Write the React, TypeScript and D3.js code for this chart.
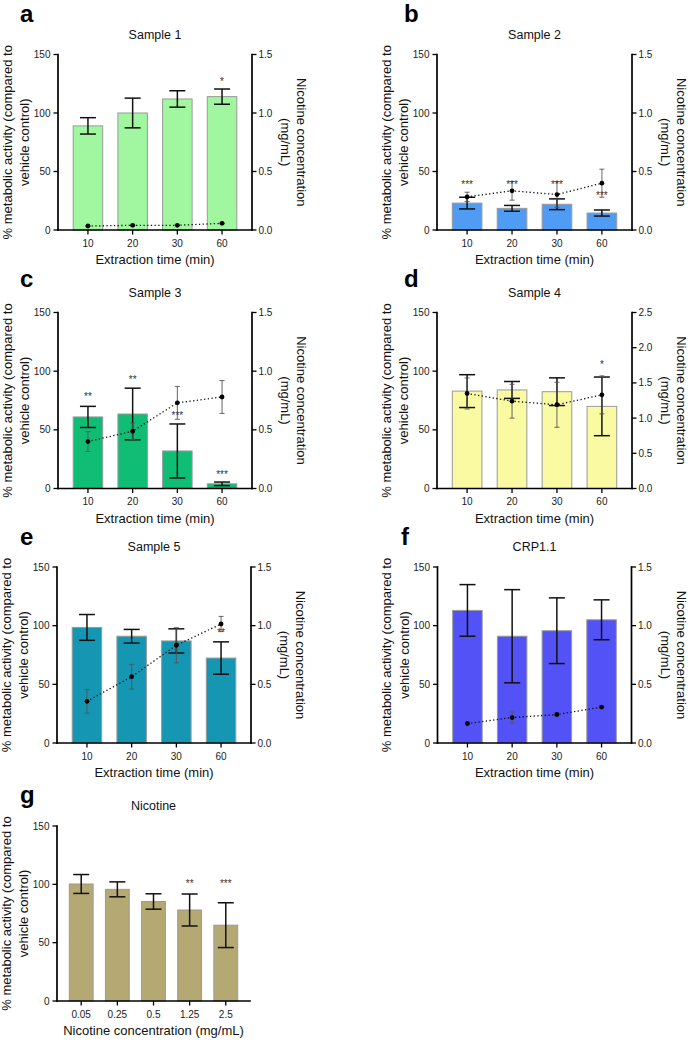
import React from "react";
import * as d3 from "d3";

// ---------- data ----------
const timeCategories = ["10", "20", "30", "60"];
const concCategories = ["0.05", "0.25", "0.5", "1.25", "2.5"];
const leftTicks = [0, 50, 100, 150];
const rightTicksA = [0, 0.5, 1.0, 1.5];
const rightTicksB = [0, 0.5, 1.0, 1.5, 2.0, 2.5];

const s1Activity = [89, 100, 112, 114];
const s1ActivityErr = [7, 12.7, 7, 6.5];
const s1Nicotine = [0.034, 0.04, 0.04, 0.057];
const s1NicotineErr = [0.004, 0.004, 0.004, 0.004];
const s1StarLabels = ["", "", "", "*"];
const s1StarLevels = [0, 0, 0, 129];

const s2Activity = [23, 18.5, 22, 14.5];
const s2ActivityErr = [5, 2.5, 4.6, 2.6];
const s2Nicotine = [0.283, 0.335, 0.303, 0.4];
const s2NicotineErr = [0.04, 0.08, 0.11, 0.12];
const s2StarLabels = ["***", "***", "***", "***"];
const s2StarLevels = [40.5, 40.5, 40.8, 31];

const s3Activity = [61, 63.5, 32, 4];
const s3ActivityErr = [9, 22, 23, 1.5];
const s3Nicotine = [0.4, 0.488, 0.73, 0.78];
const s3NicotineErr = [0.085, 0.07, 0.14, 0.14];
const s3StarLabels = ["**", "**", "***", "***"];
const s3StarLevels = [80.5, 95, 64.5, 13.7];

const s4Activity = [83, 84, 82.5, 70];
const s4ActivityErr = [14, 7.2, 11.8, 25];
const s4Nicotine = [1.35, 1.24, 1.19, 1.33];
const s4NicotineErr = [0.22, 0.24, 0.32, 0.27];
const s4StarLabels = ["", "", "", "*"];
const s4StarLevels = [0, 0, 0, 107.8];

const s5Activity = [98.5, 91, 87, 72.4];
const s5ActivityErr = [11, 5.8, 10.3, 13.8];
const s5Nicotine = [0.355, 0.565, 0.833, 1.014];
const s5NicotineErr = [0.1, 0.105, 0.15, 0.065];
const s5StarLabels = ["", "", "", "**"];
const s5StarLevels = [0, 0, 0, 95.7];

const crpActivity = [113, 91, 95.7, 105];
const crpActivityErr = [22, 39.7, 28, 17];
const crpNicotine = [0.166, 0.217, 0.243, 0.306];
const crpNicotineErr = [0.005, 0.047, 0.01, 0.008];

const nicActivity = [100.3, 95.7, 85.3, 78, 65];
const nicActivityErr = [8.1, 6.4, 6.6, 13.7, 19.2];
const nicStarLabels = ["", "", "", "**", "***"];
const nicStarLevels = [0, 0, 0, 102.6, 102.6];

// ---------- layout / style ----------
const FONT = "Liberation Sans, Arial, Helvetica, sans-serif";

type Box = { L: number; R: number; T: number; B: number; lx: number; ly: number };

const boxes: Record<string, Box> = {
  a: { L: 58, R: 252, T: 54.5, B: 230, lx: 20, ly: 22 },
  b: { L: 437, R: 632, T: 54.5, B: 230, lx: 404, ly: 22 },
  c: { L: 58, R: 252, T: 312.5, B: 488.5, lx: 20, ly: 287 },
  d: { L: 437, R: 632, T: 312.5, B: 488.5, lx: 404, ly: 287 },
  e: { L: 57, R: 251, T: 567, B: 743, lx: 20, ly: 545 },
  f: { L: 437.5, R: 631.5, T: 567, B: 743, lx: 401, ly: 545 },
  g: { L: 57, R: 250, T: 826, B: 1001, lx: 20, ly: 803 },
};

type PanelProps = {
  letter: string;
  title: string;
  categories: string[];
  activity: number[];
  activityErr: number[];
  nicotine?: number[];
  nicotineErr?: number[];
  rightTicks?: number[];
  starLabels?: string[];
  starLevels?: number[];
  color: string;
  xTitle: string;
};

function Panel(p: PanelProps) {
  const box = boxes[p.letter];
  const { L, R, T, B } = box;
  const x = d3
    .scaleBand<string>()
    .domain(p.categories)
    .range([L, R])
    .paddingInner(0.34)
    .paddingOuter(0.34);
  const bw = x.bandwidth();
  const cx = (c: string) => (x(c) as number) + bw / 2;
  const y = d3.scaleLinear().domain([0, 150]).range([B, T]);
  const rt = p.rightTicks;
  const y2 = rt ? d3.scaleLinear().domain([0, rt[rt.length - 1]]).range([B, T]) : null;
  const fmt = d3.format(".1f");
  const capW = 16;
  const dotCap = 5;
  const midY = (T + B) / 2;
  const midX = (L + R) / 2;

  const linePath =
    p.nicotine && y2
      ? d3
          .line<number>()
          .x((_, i) => cx(p.categories[i]))
          .y((d) => y2(d))(p.nicotine)
      : null;

  return (
    <g fontFamily={FONT}>
      {/* panel letter */}
      <text x={box.lx} y={box.ly} fontSize={24} fontWeight="bold" fill="#000">
        {p.letter}
      </text>
      {/* title */}
      <text x={midX} y={T - 16} fontSize={12.5} textAnchor="middle" fill="#111">
        {p.title}
      </text>

      {/* bars */}
      {p.categories.map((c, i) => (
        <rect
          key={"bar" + c}
          x={x(c)}
          y={y(p.activity[i])}
          width={bw}
          height={B - y(p.activity[i])}
          fill={p.color}
          stroke="#9a9a9a"
          strokeWidth={1}
        />
      ))}
      {/* bar error bars */}
      {p.categories.map((c, i) => {
        const top = y(p.activity[i] + p.activityErr[i]);
        const bot = y(p.activity[i] - p.activityErr[i]);
        const xc = cx(c);
        return (
          <g key={"err" + c} stroke="#111" strokeWidth={1.5} fill="none">
            <line x1={xc} x2={xc} y1={top} y2={bot} />
            <line x1={xc - capW / 2} x2={xc + capW / 2} y1={top} y2={top} />
            <line x1={xc - capW / 2} x2={xc + capW / 2} y1={bot} y2={bot} />
          </g>
        );
      })}

      {/* nicotine line */}
      {linePath && (
        <path d={linePath} fill="none" stroke="#111" strokeWidth={1.3} strokeDasharray="1.3 2.4" />
      )}
      {p.nicotine &&
        y2 &&
        p.categories.map((c, i) => {
          const v = p.nicotine![i];
          const e = p.nicotineErr![i];
          const xc = cx(c);
          const top = y2(v + e);
          const bot = y2(v - e);
          return (
            <g key={"nic" + c}>
              <g stroke="#555" strokeWidth={0.9}>
                <line x1={xc} x2={xc} y1={top} y2={bot} />
                <line x1={xc - dotCap / 2} x2={xc + dotCap / 2} y1={top} y2={top} />
                <line x1={xc - dotCap / 2} x2={xc + dotCap / 2} y1={bot} y2={bot} />
              </g>
              <circle cx={xc} cy={y2(v)} r={2.4} fill="#000" />
            </g>
          );
        })}

      {/* significance stars */}
      {p.starLabels &&
        p.categories.map((c, i) =>
          p.starLabels![i] ? (
            <text
              key={"star" + c}
              x={cx(c)}
              y={y(p.starLevels![i]) + 5.7}
              fontSize={10}
              textAnchor="middle"
              fill="#333"
            >
              {p.starLabels![i]}
            </text>
          ) : null
        )}

      {/* axes */}
      <g stroke="#000" strokeWidth={1.7} fill="none" strokeLinecap="square">
        <line x1={L} x2={L} y1={T} y2={B} />
        <line x1={L} x2={R} y1={B} y2={B} />
        {rt && <line x1={R} x2={R} y1={T} y2={B} />}
      </g>
      <g stroke="#000" strokeWidth={1.3}>
        {leftTicks.map((t) => (
          <line key={"lt" + t} x1={L - 4.5} x2={L} y1={y(t)} y2={y(t)} />
        ))}
        {rt &&
          y2 &&
          rt.map((t) => <line key={"rt" + t} x1={R} x2={R + 4.5} y1={y2(t)} y2={y2(t)} />)}
        {p.categories.map((c) => (
          <line key={"xt" + c} x1={cx(c)} x2={cx(c)} y1={B} y2={B + 4.5} />
        ))}
      </g>
      <g fontSize={10} fill="#222">
        {leftTicks.map((t) => (
          <text key={"ltl" + t} x={L - 7.5} y={y(t) + 3.5} textAnchor="end">
            {t}
          </text>
        ))}
        {rt &&
          y2 &&
          rt.map((t) => (
            <text key={"rtl" + t} x={R + 6.5} y={y2(t) + 3.5} textAnchor="start">
              {fmt(t)}
            </text>
          ))}
        {p.categories.map((c) => (
          <text key={"xtl" + c} x={cx(c)} y={B + 16.5} textAnchor="middle">
            {c}
          </text>
        ))}
      </g>

      {/* axis titles */}
      <text x={midX} y={B + 34} fontSize={13} textAnchor="middle" fill="#111">
        {p.xTitle}
      </text>
      <g fontSize={13} fill="#111" textAnchor="middle">
        <text x={L - 46.5} y={midY} transform={`rotate(-90, ${L - 46.5}, ${midY})`}>
          % metabolic activity (compared to
        </text>
        <text x={L - 29} y={midY} transform={`rotate(-90, ${L - 29}, ${midY})`}>
          vehicle control)
        </text>
        {rt && (
          <>
            <text x={R + 45} y={midY} transform={`rotate(90, ${R + 45}, ${midY})`}>
              Nicotine concentration
            </text>
            <text x={R + 29} y={midY} transform={`rotate(90, ${R + 29}, ${midY})`}>
              (mg/mL)
            </text>
          </>
        )}
      </g>
    </g>
  );
}

export default function App() {
  const xTime = "Extraction time (min)";
  return (
    <svg
      width={690}
      height={1040}
      viewBox="0 0 690 1040"
      style={{ position: "absolute", left: 0, top: 0, background: "#fff" }}
    >
      <rect x={0} y={0} width={690} height={1040} fill="#fff" />
      <Panel
        letter="a"
        title="Sample 1"
        categories={timeCategories}
        activity={s1Activity}
        activityErr={s1ActivityErr}
        nicotine={s1Nicotine}
        nicotineErr={s1NicotineErr}
        rightTicks={rightTicksA}
        starLabels={s1StarLabels}
        starLevels={s1StarLevels}
        color="#a0f7a0"
        xTitle={xTime}
      />
      <Panel
        letter="b"
        title="Sample 2"
        categories={timeCategories}
        activity={s2Activity}
        activityErr={s2ActivityErr}
        nicotine={s2Nicotine}
        nicotineErr={s2NicotineErr}
        rightTicks={rightTicksA}
        starLabels={s2StarLabels}
        starLevels={s2StarLevels}
        color="#509cf4"
        xTitle={xTime}
      />
      <Panel
        letter="c"
        title="Sample 3"
        categories={timeCategories}
        activity={s3Activity}
        activityErr={s3ActivityErr}
        nicotine={s3Nicotine}
        nicotineErr={s3NicotineErr}
        rightTicks={rightTicksA}
        starLabels={s3StarLabels}
        starLevels={s3StarLevels}
        color="#10bd74"
        xTitle={xTime}
      />
      <Panel
        letter="d"
        title="Sample 4"
        categories={timeCategories}
        activity={s4Activity}
        activityErr={s4ActivityErr}
        nicotine={s4Nicotine}
        nicotineErr={s4NicotineErr}
        rightTicks={rightTicksB}
        starLabels={s4StarLabels}
        starLevels={s4StarLevels}
        color="#fafaa2"
        xTitle={xTime}
      />
      <Panel
        letter="e"
        title="Sample 5"
        categories={timeCategories}
        activity={s5Activity}
        activityErr={s5ActivityErr}
        nicotine={s5Nicotine}
        nicotineErr={s5NicotineErr}
        rightTicks={rightTicksA}
        starLabels={s5StarLabels}
        starLevels={s5StarLevels}
        color="#1597b3"
        xTitle={xTime}
      />
      <Panel
        letter="f"
        title="CRP1.1"
        categories={timeCategories}
        activity={crpActivity}
        activityErr={crpActivityErr}
        nicotine={crpNicotine}
        nicotineErr={crpNicotineErr}
        rightTicks={rightTicksA}
        color="#5252f6"
        xTitle={xTime}
      />
      <Panel
        letter="g"
        title="Nicotine"
        categories={concCategories}
        activity={nicActivity}
        activityErr={nicActivityErr}
        starLabels={nicStarLabels}
        starLevels={nicStarLevels}
        color="#b4a873"
        xTitle="Nicotine concentration (mg/mL)"
      />
    </svg>
  );
}
